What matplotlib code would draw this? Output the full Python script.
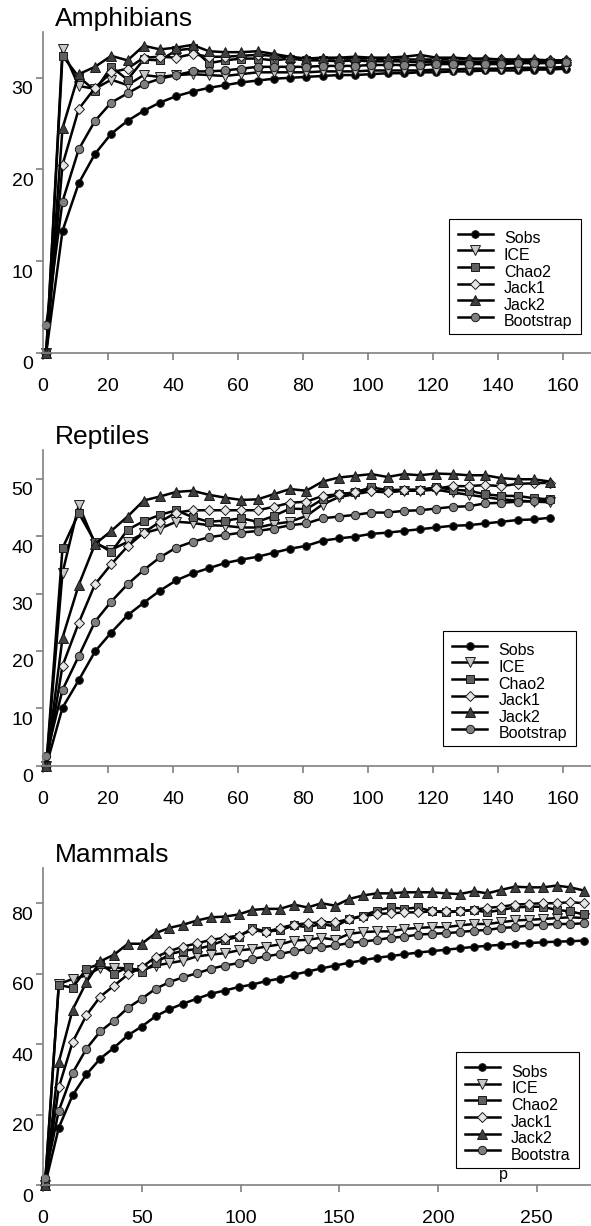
import matplotlib
matplotlib.use("Agg")
import matplotlib.pyplot as plt
from matplotlib.transforms import ScaledTranslation

plt.rcParams['font.family'] = ['Liberation Sans', 'DejaVu Sans']

labels = ["Sobs", "ICE", "Chao2", "Jack1", "Jack2", "Bootstrap"]
markers = ['o', 'v', 's', 'D', '^', 'o']
faces = ['black', '#c8c8c8', '#5f5f5f', '#e6e6e6', '#3f3f3f', '#7f7f7f']
msizes = [5.5, 6.5, 5.5, 5.5, 6.5, 6]

# Amphibians (samples 1..161, step 5)
amph_x = list(range(1, 162, 5))
amph_sobs = [0, 13.3, 18.5, 21.7, 23.9, 25.3, 26.4, 27.3, 28.0, 28.5, 28.9, 29.2, 29.5, 29.7, 29.9, 30.0, 30.1,
             30.2, 30.3, 30.3, 30.4, 30.5, 30.5, 30.6, 30.6, 30.7, 30.7, 30.8, 30.8, 30.8, 30.9, 30.9, 31.0]
amph_ice = [0, 33.1, 29.1, 28.8, 29.8, 29.2, 30.3, 30.1, 30.3, 30.4, 30.3, 30.2, 30.4, 30.6, 30.6, 30.6, 30.6,
            30.7, 30.7, 30.7, 30.8, 30.8, 30.8, 30.8, 30.9, 30.9, 31.0, 31.0, 31.0, 31.1, 31.1, 31.1, 31.2]
amph_chao2 = [0, 32.4, 30.1, 28.6, 31.2, 29.8, 32.0, 31.9, 33.0, 33.2, 31.6, 31.9, 32.1, 32.1, 31.9, 32.1, 31.9,
              31.9, 31.8, 31.9, 31.8, 31.8, 31.8, 31.7, 31.8, 31.7, 31.7, 31.7, 31.7, 31.7, 31.7, 31.7, 31.7]
amph_jack1 = [0, 20.5, 26.6, 28.9, 30.6, 31.0, 32.2, 32.3, 32.2, 32.6, 32.3, 32.3, 32.4, 32.5, 32.4, 32.2, 32.1,
              32.1, 32.1, 32.1, 32.1, 32.0, 32.0, 32.0, 32.0, 32.0, 32.0, 32.0, 32.0, 31.9, 31.9, 31.9, 31.9]
amph_jack2 = [0, 24.5, 30.4, 31.2, 32.4, 31.9, 33.5, 33.1, 33.3, 33.6, 32.9, 32.8, 32.8, 32.9, 32.6, 32.3, 32.1,
              32.2, 32.2, 32.3, 32.2, 32.2, 32.3, 32.5, 32.2, 32.2, 32.1, 32.1, 32.0, 32.0, 32.0, 31.9, 31.9]
amph_boot = [3.0, 16.5, 22.2, 25.3, 27.3, 28.3, 29.3, 29.9, 30.3, 30.7, 30.7, 30.8, 31.0, 31.2, 31.2, 31.2, 31.2,
             31.3, 31.3, 31.3, 31.4, 31.4, 31.4, 31.4, 31.5, 31.5, 31.5, 31.5, 31.5, 31.6, 31.6, 31.6, 31.7]

# Reptiles (samples 1..156, step 5)
rept_x = list(range(1, 157, 5))
rept_sobs = [0, 10.1, 14.9, 19.9, 23.2, 26.2, 28.4, 30.5, 32.3, 33.5, 34.4, 35.3, 35.9, 36.4, 37.1, 37.8,
             38.3, 39.2, 39.6, 39.9, 40.4, 40.6, 40.9, 41.2, 41.5, 41.8, 41.9, 42.2, 42.5, 42.8, 42.9, 43.2]
rept_ice = [0, 33.6, 45.4, 38.7, 37.6, 39.0, 40.5, 41.3, 42.5, 42.3, 41.9, 41.8, 41.5, 41.5, 42.1, 42.5,
            43.5, 45.5, 46.8, 47.3, 47.8, 47.6, 47.9, 47.9, 48.1, 47.6, 47.2, 46.8, 46.4, 46.2, 46.0, 45.9]
rept_chao2 = [0, 37.9, 44.0, 39.0, 37.2, 41.1, 42.6, 43.7, 44.5, 43.3, 42.5, 42.7, 43.1, 42.5, 43.5, 44.8,
              44.7, 46.4, 47.3, 47.6, 48.5, 48.0, 48.1, 48.1, 48.5, 48.1, 47.9, 47.3, 47.0, 47.0, 46.6, 46.4]
rept_jack1 = [0, 17.4, 24.9, 31.6, 35.1, 38.2, 40.6, 42.5, 44.1, 44.5, 44.5, 44.5, 44.5, 44.5, 45.1, 45.8,
              46.0, 47.0, 47.3, 47.6, 47.9, 47.7, 48.0, 48.0, 48.3, 48.7, 48.7, 48.9, 48.7, 49.1, 49.2, 49.3]
rept_jack2 = [0, 22.3, 31.5, 38.6, 40.9, 43.4, 46.2, 46.9, 47.7, 47.9, 47.2, 46.7, 46.3, 46.4, 47.3, 48.2,
              47.9, 49.5, 50.2, 50.5, 50.8, 50.3, 50.8, 50.6, 50.9, 50.8, 50.6, 50.6, 50.1, 49.9, 49.9, 49.5]
rept_boot = [1.7, 13.2, 19.1, 25.1, 28.6, 31.6, 34.1, 36.3, 38.0, 39.0, 39.8, 40.2, 40.6, 40.9, 41.3, 41.9,
             42.2, 43.1, 43.4, 43.7, 44.1, 44.1, 44.4, 44.5, 44.8, 45.1, 45.2, 45.7, 45.8, 46.0, 46.1, 46.3]

# Mammals (samples 1..274, step 7)
mamm_x = list(range(1, 275, 7))
mamm_sobs = [0, 16.3, 25.5, 31.4, 35.9, 39.0, 42.5, 45.0, 47.9, 49.9, 51.5, 52.9, 54.3, 55.2, 56.2, 56.9, 57.9, 58.6,
             59.7, 60.6, 61.5, 62.3, 63.1, 63.8, 64.5, 65.0, 65.5, 66.0, 66.4, 66.8, 67.2, 67.6, 67.9, 68.2, 68.5,
             68.7, 68.9, 69.1, 69.2, 69.4]
mamm_ice = [0, 57.0, 58.5, 59.5, 61.7, 61.7, 61.5, 61.0, 62.3, 63.0, 63.7, 64.9, 65.4, 65.8, 66.6, 67.0, 67.7, 68.3,
            69.4, 69.6, 70.2, 69.6, 71.3, 71.8, 72.0, 72.0, 72.7, 73.0, 73.2, 73.2, 73.7, 74.1, 74.1, 74.6, 75.1,
            75.3, 75.5, 75.8, 76.0, 75.8]
mamm_chao2 = [0, 56.8, 56.0, 61.4, 62.8, 60.0, 61.8, 60.5, 63.0, 65.5, 66.5, 67.0, 68.0, 69.5, 70.5, 72.9, 72.0, 72.3,
              73.7, 73.2, 74.1, 73.4, 75.5, 76.5, 77.9, 78.8, 78.4, 78.8, 77.7, 77.4, 77.7, 78.1, 77.4, 78.1, 78.8,
              79.0, 79.0, 78.1, 77.7, 76.8]
mamm_jack1 = [0, 27.7, 40.6, 48.2, 53.5, 56.6, 59.8, 61.8, 64.7, 66.4, 67.7, 68.6, 69.6, 70.2, 70.8, 72.4, 71.8, 73.0,
              73.9, 74.3, 74.6, 74.6, 75.5, 76.2, 77.0, 77.1, 77.4, 77.4, 77.7, 77.7, 77.7, 78.1, 78.7, 79.0, 79.6,
              79.8, 80.0, 80.0, 80.3, 80.0]
mamm_jack2 = [0, 34.9, 49.8, 57.6, 63.5, 65.4, 68.5, 68.5, 71.5, 73.0, 73.9, 75.1, 76.0, 76.2, 76.8, 78.1, 78.4, 78.4,
              79.6, 78.8, 80.0, 79.3, 81.2, 82.2, 82.8, 82.8, 83.1, 83.1, 83.1, 82.8, 82.6, 83.4, 82.8, 83.8, 84.7,
              84.5, 84.5, 85.0, 84.5, 83.6]
mamm_boot = [2.1, 21.1, 31.8, 38.7, 43.6, 46.7, 50.3, 52.9, 55.7, 57.6, 59.0, 60.1, 61.4, 62.3, 63.0, 64.2, 64.9, 65.6,
             66.4, 67.0, 67.5, 68.0, 68.7, 69.1, 69.6, 70.2, 70.5, 71.1, 71.3, 71.5, 71.8, 72.2, 72.4, 73.0, 73.2,
             73.7, 73.9, 74.1, 74.1, 74.3]

fig = plt.figure(figsize=(5.91, 12.26), dpi=100)


def draw_panel(rect, x, series, title, xmax, xticks, ymax, yticks, leg_anchor, leg_labels):
    ax = fig.add_axes(rect)
    for vals, lab, m, fc, ms in zip(series, leg_labels, markers, faces, msizes):
        ax.plot(x, vals, color='black', lw=1.8, marker=m, ms=ms, mfc=fc, mec='#1a1a1a', mew=0.7,
                label=lab, clip_on=False)
    ax.set_xlim(0, xmax)
    ax.set_ylim(0, ymax)
    ax.set_xticks(xticks)
    ax.set_yticks(yticks)
    for s in ['top', 'right']:
        ax.spines[s].set_visible(False)
    for s in ['left', 'bottom']:
        ax.spines[s].set_color('#808080')
        ax.spines[s].set_linewidth(1.2)
    ax.tick_params(axis='both', direction='out', length=5, width=1.2, color='#808080', labelsize=14)
    ax.tick_params(axis='x', pad=13)
    ax.tick_params(axis='y', pad=2)
    # y labels sit a little below their ticks in the original
    shift = ScaledTranslation(0, -0.1, fig.dpi_scale_trans)
    for lab in ax.get_yticklabels():
        lab.set_transform(lab.get_transform() + shift)

    ax.annotate(title, xy=(0, 1), xycoords='axes fraction', xytext=(12, 6), textcoords='offset pixels',
                fontsize=19, ha='left', va='baseline')

    leg = ax.legend(loc='lower right', bbox_to_anchor=leg_anchor, borderaxespad=0, fontsize=11.5,
                    fancybox=False, edgecolor='black', framealpha=1, handlelength=2.2,
                    handletextpad=0.7, labelspacing=0.1, borderpad=0.55)
    leg.get_frame().set_linewidth(0.8)
    tshift = ScaledTranslation(0, -0.04, fig.dpi_scale_trans)
    for t in leg.get_texts():
        t.set_transform(t.get_transform() + tshift)
    return ax


left = 43 / 591
width = 548 / 591

draw_panel([left, 1 - 352.7 / 1226, width, 320.7 / 1226], amph_x,
           [amph_sobs, amph_ice, amph_chao2, amph_jack1, amph_jack2, amph_boot],
           "Amphibians", 548 / 3.25, range(0, 161, 20), 35, [0, 10, 20, 30], (0.982, 0.058), labels)

draw_panel([left, 1 - 765.7 / 1226, width, 315.7 / 1226], rept_x,
           [rept_sobs, rept_ice, rept_chao2, rept_jack1, rept_jack2, rept_boot],
           "Reptiles", 548 / 3.25, range(0, 161, 20), 55, [0, 10, 20, 30, 40, 50], (0.972, 0.062), labels)

mamm_labels = labels[:5] + ["Bootstra"]
ax3 = draw_panel([left, 1 - 1185 / 1226, width, 317 / 1226], mamm_x,
                 [mamm_sobs, mamm_ice, mamm_chao2, mamm_jack1, mamm_jack2, mamm_boot],
                 "Mammals", 548 / 1.975, range(0, 251, 50), 90, [0, 20, 40, 60, 80], (0.979, 0.055),
                 mamm_labels)
ax3.text(0.832, 0.032, "p", transform=ax3.transAxes, fontsize=11.5, ha='left', va='center')

fig.savefig("out.png", dpi=100)
